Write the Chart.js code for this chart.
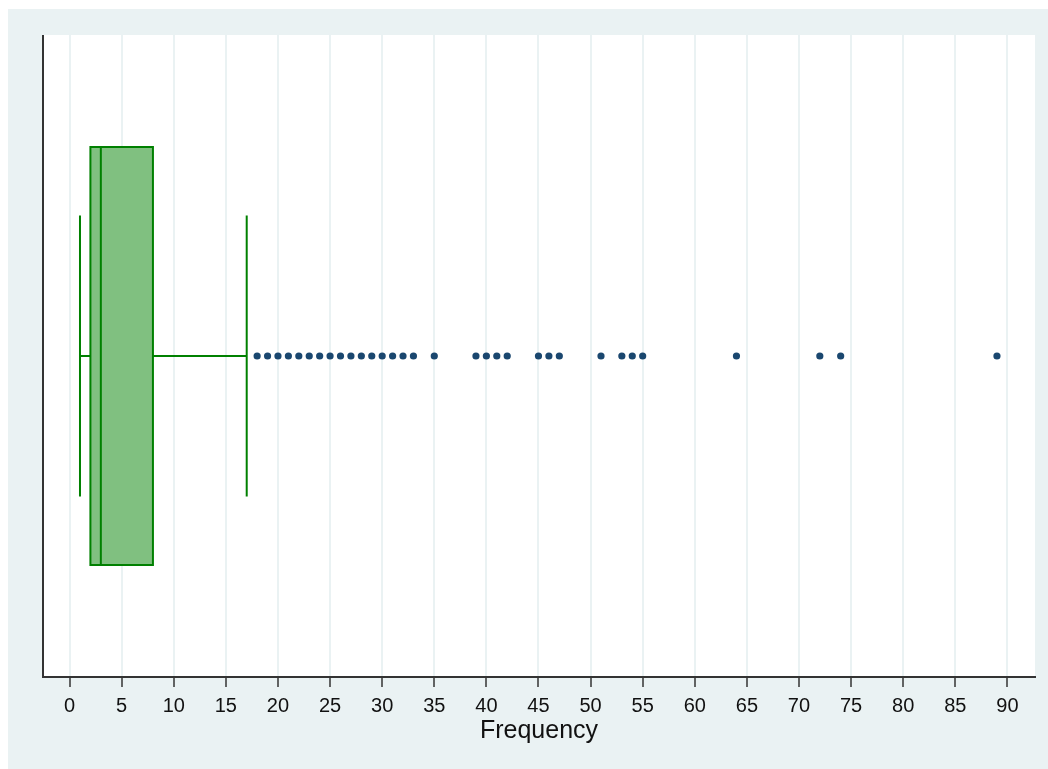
<!DOCTYPE html>
<html>
<head>
<meta charset="utf-8">
<script src="https://cdn.jsdelivr.net/npm/chart.js@4/dist/chart.umd.min.js"></script>
<style>
  html, body { margin: 0; padding: 0; background: #fff; }
  #wrap { position: absolute; left: 8px; top: 9px; width: 1040px; height: 760px; background: #EAF2F3; }
</style>
</head>
<body>
<div id="wrap"><canvas id="box" width="1040" height="760"></canvas></div>
<script>
// --- Datos ---
const xTicks = [0, 5, 10, 15, 20, 25, 30, 35, 40, 45, 50, 55, 60, 65, 70, 75, 80, 85, 90];
const whiskerLow = 1;
const q1 = 2;
const median = 3;
const q3 = 8;
const whiskerHigh = 17;
const outliers = [18, 19, 20, 21, 22, 23, 24, 25, 26, 27, 28, 29, 30, 31, 32, 33,
  35, 39, 40, 41, 42, 45, 46, 47, 51, 53, 54, 55, 64, 72, 74, 89];

// alto de la caja y de los topes (en unidades del eje y, -1..1)
const BOX_H = 0.651;
const CAP_H = 0.438;
const GREEN = '#008000';

const line = (pts, extra) => Object.assign({
  data: pts, showLine: true, pointRadius: 0, borderColor: GREEN,
  borderWidth: 2, tension: 0, fill: false, order: 1
}, extra || {});

// fondo blanco del área y eje izquierdo
const plotBg = {
  id: 'plotBg',
  beforeDraw(chart) {
    const { ctx, chartArea: a } = chart;
    ctx.save();
    ctx.fillStyle = '#fff';
    ctx.fillRect(a.left, a.top, a.right - a.left, a.bottom - a.top);
    ctx.restore();
  },
  afterDraw(chart) {
    const { ctx, chartArea: a } = chart;
    ctx.save();
    ctx.strokeStyle = '#333';
    ctx.lineWidth = 2;
    ctx.beginPath();
    ctx.moveTo(a.left, a.top);
    ctx.lineTo(a.left, a.bottom + 1);
    ctx.stroke();
    ctx.restore();
  }
};

new Chart(document.getElementById('box').getContext('2d'), {
  type: 'scatter',
  data: {
    datasets: [
      // caja (detrás de la mediana)
      line([{x: q1, y: -BOX_H}, {x: q3, y: -BOX_H}, {x: q3, y: BOX_H}, {x: q1, y: BOX_H}, {x: q1, y: -BOX_H}],
        { fill: 'shape', backgroundColor: '#80C080', order: 5, borderJoinStyle: 'miter', borderCapStyle: 'square' }),
      // mediana
      line([{x: median, y: -BOX_H}, {x: median, y: BOX_H}]),
      // bigotes
      line([{x: whiskerLow, y: 0}, {x: q1, y: 0}]),
      line([{x: whiskerLow, y: -CAP_H}, {x: whiskerLow, y: CAP_H}]),
      line([{x: q3, y: 0}, {x: whiskerHigh, y: 0}]),
      line([{x: whiskerHigh, y: -CAP_H}, {x: whiskerHigh, y: CAP_H}]),
      // valores atípicos
      {
        data: outliers.map(v => ({x: v, y: 0})),
        pointRadius: 3.6, pointBackgroundColor: '#1A476F', pointBorderWidth: 0,
        pointHoverRadius: 3.6, order: 0
      }
    ]
  },
  options: {
    responsive: false,
    animation: false,
    layout: { padding: { left: 35, top: 26, right: 13, bottom: 0 } },
    plugins: { legend: { display: false }, tooltip: { enabled: false } },
    scales: {
      x: {
        type: 'linear',
        min: -2.55,
        max: 92.65,
        afterBuildTicks: s => { s.ticks = xTicks.map(v => ({ value: v })); },
        afterFit: s => { s.height = 92; },
        grid: { color: '#EAF2F3', lineWidth: 2, tickColor: '#333', tickWidth: 1.5, tickLength: 10 },
        border: { color: '#333', width: 2 },
        ticks: { color: '#111', font: { family: 'Liberation Sans', size: 20 }, padding: 7, maxRotation: 0, autoSkip: false },
        title: {
          display: true, text: 'Frequency', color: '#111',
          font: { family: 'Liberation Sans', size: 25 }, padding: { top: 0, bottom: 23 }
        }
      },
      y: { type: 'linear', display: false, min: -1, max: 1 }
    }
  },
  plugins: [plotBg]
});
</script>
</body>
</html>
